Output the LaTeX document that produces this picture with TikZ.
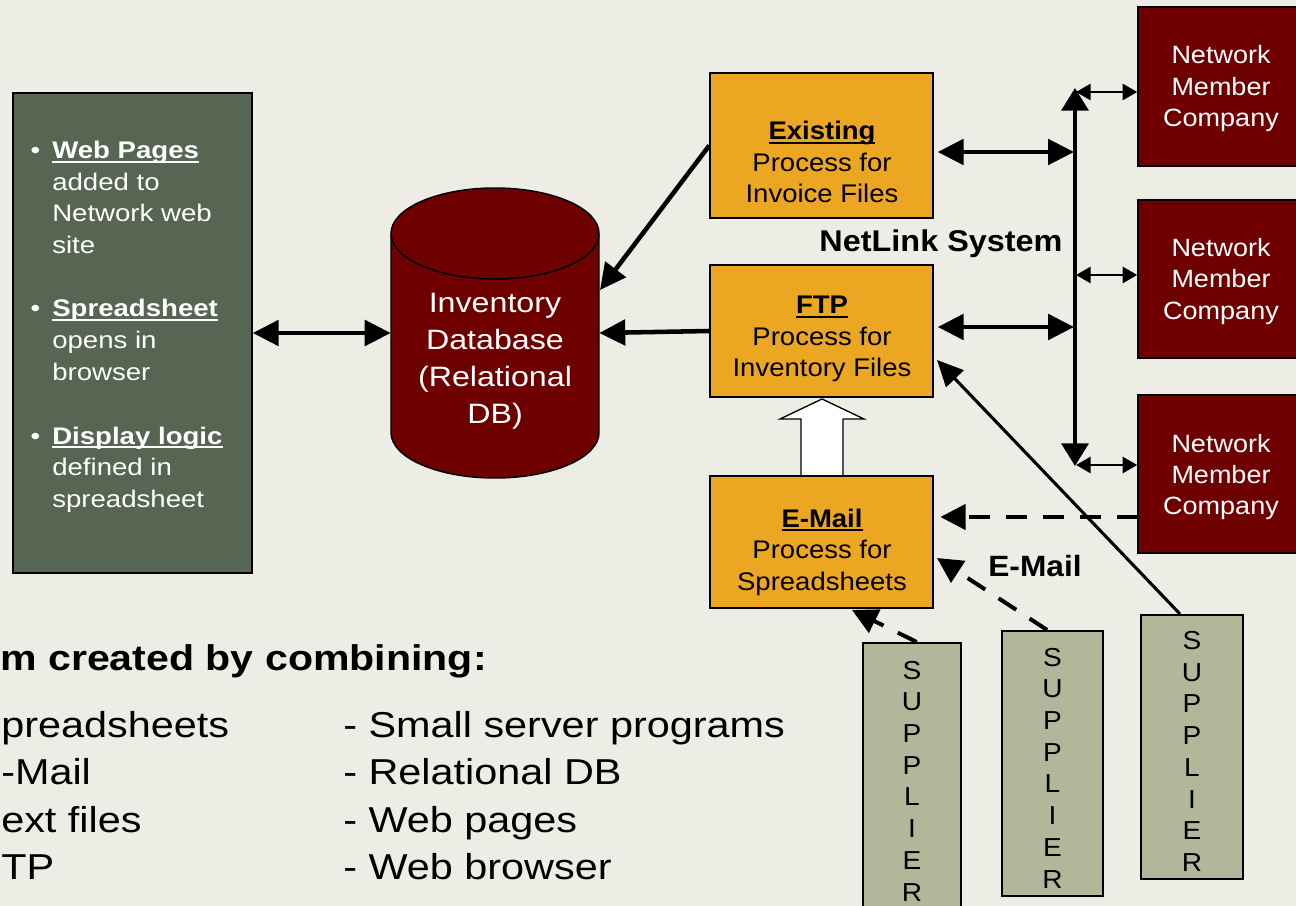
\documentclass[tikz,border=0pt]{standalone}
\usepackage{fontspec}
\setmainfont[FakeStretch=1.08]{Liberation Sans}
\newfontfamily\widefont[FakeStretch=1.15]{Liberation Sans}
\usetikzlibrary{arrows.meta,fit}
\definecolor{bg}{RGB}{237,237,230}
\definecolor{sage}{RGB}{86,102,83}
\definecolor{dbred}{RGB}{110,0,0}
\definecolor{gold}{RGB}{236,167,34}
\definecolor{khaki}{RGB}{179,183,154}
\newcommand\myul[1]{\setbox0\hbox{#1}\rlap{\rule[-0.17em]{\wd0}{0.085em}}\box0}
\begin{document}
\begin{tikzpicture}[x=0.75pt,y=-0.75pt,
  box/.style={draw=black, line width=1.1pt, inner sep=0pt},
  bigtwo/.style={line width=3.4pt, >={Triangle[length=19.5pt,width=19pt]}, <->},
  bigone/.style={line width=3.4pt, >={Triangle[length=19.5pt,width=19pt]}, ->},
  smalltwo/.style={line width=2.2pt, >={Triangle[length=11pt,width=12pt]}, <->},
  thinone/.style={line width=2.3pt, >={Triangle[length=19.5pt,width=18pt]}, ->},
  dashone/.style={line width=3pt, dash pattern=on 15.75pt off 12pt, >={Triangle[length=19pt,width=19pt]}, ->},
  gtxt/.style={text=white, font=\widefont\fontsize{18pt}{23.7pt}\selectfont, align=left, inner sep=0pt, anchor=west},
  ctxt/.style={text=white, font=\widefont\fontsize{21pt}{27.75pt}\selectfont, align=center, inner sep=0pt},
  otxt/.style={text=black, font=\fontsize{19.1pt}{23.6pt}\selectfont, align=center, inner sep=0pt},
  mtxt/.style={text=white, font=\fontsize{18.75pt}{23.6pt}\selectfont, align=center, inner sep=0pt},
  stxt/.style={text=black, font=\fontsize{19.5pt}{23.8pt}\selectfont, align=center, inner sep=0pt},
  btxt/.style={text=black, font=\widefont\fontsize{27pt}{35.6pt}\selectfont, inner sep=0pt},
  lbl/.style={text=black, font=\bfseries\fontsize{22.5pt}{26pt}\selectfont, inner sep=0pt}
]
\clip (0,0) rectangle (1296,906);
\fill[bg] (0,0) rectangle (1296,906);

% left green panel
\node[box, fill=sage, fit={(13,93) (252,573)}] (green) {};
\node[gtxt] (g1) at (52,197.5) {\llap{\textbullet\hspace{9pt}}\myul{\textbf{Web Pages}}\\added to\\Network web\\site};
\node[gtxt] (g2) at (52,340) {\llap{\textbullet\hspace{9pt}}\myul{\textbf{Spreadsheet}}\\opens in\\browser};
\node[gtxt] (g3) at (52,469.5) {\llap{\textbullet\hspace{9pt}}\myul{\textbf{Display logic}}\\defined in\\spreadsheet};

% database cylinder
\fill[dbred] (391,233.5) rectangle (599,432.5);
\fill[dbred] (495,432.5) ellipse [x radius=104, y radius=45.5];
\draw[line width=1.1pt] (391,233.5) -- (391,432.5) arc[start angle=180, end angle=0, x radius=104, y radius=45.5] -- (599,233.5);
\filldraw[fill=dbred, draw=black, line width=1.1pt] (495,233.5) ellipse [x radius=104, y radius=45.5];
\node[fit={(391,188) (599,478)}, inner sep=0pt] (db) {};
\node[ctxt] (dbt) at (495,361.5) {Inventory\\Database\\(Relational\\DB)};
\coordinate (dbR1) at (600,290);

% process boxes
\node[box, fill=gold, fit={(710,73) (933,218)}] (exist) {};
\node[otxt] (existt) at (822,162) {\myul{\textbf{Existing}}\\Process for\\Invoice Files};
\node[box, fill=gold, fit={(710,265) (933,397)}] (ftp) {};
\node[otxt] (ftpt) at (822,339) {\myul{\textbf{FTP}}\\Process for\\Inventory Files};
\filldraw[fill=white, draw=black, line width=1pt] (801,476) -- (801,419) -- (780,419) -- (822,399) -- (864,419) -- (843,419) -- (843,476);
\node[box, fill=gold, fit={(710,476) (933,608)}] (email) {};
\node[otxt] (emailt) at (822,552) {\myul{\textbf{E-Mail}}\\Process for\\Spreadsheets};

\node[lbl] (netlink) at (941,243.5) {NetLink System};
\node[lbl, font=\bfseries\fontsize{22pt}{26pt}\selectfont] (emaill) at (1035,566) {E-Mail};

% member companies
\node[box, fill=dbred, fit={(1138,7) (1304,166)}] (comp1) {};
\node[mtxt] (comp1t) at (1221,89) {Network\\Member\\Company};
\node[box, fill=dbred, fit={(1138,200) (1304,358)}] (comp2) {};
\node[mtxt] (comp2t) at (1221,281.5) {Network\\Member\\Company};
\node[box, fill=dbred, fit={(1138,395) (1304,553)}] (comp3) {};
\node[mtxt] (comp3t) at (1221,477) {Network\\Member\\Company};

% suppliers
\node[box, fill=khaki, line width=1.5pt, fit={(863,643) (961,908)}] (sup1) {};
\node[stxt] (sup1t) at (912,781) {S\\U\\P\\P\\L\\I\\E\\R};
\node[box, fill=khaki, line width=1.5pt, fit={(1002,631) (1103,896)}] (sup2) {};
\node[stxt] (sup2t) at (1052.5,768) {S\\U\\P\\P\\L\\I\\E\\R};
\node[box, fill=khaki, line width=1.5pt, fit={(1141,615) (1243,879)}] (sup3) {};
\node[stxt] (sup3t) at (1192,751.5) {S\\U\\P\\P\\L\\I\\E\\R};

% bus coordinates
\coordinate (bustop) at (1075,88);
\coordinate (busbot) at (1075,466);
\coordinate (bus1) at (1074,152);
\coordinate (bus2) at (1074,327);
\coordinate (bc1) at (1076,92);
\coordinate (bc2) at (1076,275);
\coordinate (bc3) at (1076,465);
\coordinate (d1) at (1138,517);
\coordinate (f1) at (937,360);
\coordinate (e1) at (937,558);
\coordinate (e2) at (852,610);

% connectors
\draw[bigtwo] (green.east) -- (db.west);
\draw[bigone] (exist.west) -- (dbR1);
\draw[bigone] (ftp.west) -- (db.east);
\draw[bigtwo, shorten <=3pt] (exist.east |- bus1) -- (bus1);
\draw[bigtwo, shorten <=3pt] (ftp.east |- bus2) -- (bus2);
\draw[bigtwo, >={Triangle[length=17pt,width=20pt]}] (busbot) -- (bustop);
\draw[smalltwo] (bc1) -- (comp1.west |- bc1);
\draw[smalltwo] (bc2) -- (comp2.west |- bc2);
\draw[smalltwo] (bc3) -- (comp3.west |- bc3);
\draw[dashone] (d1) -- (email.east |- d1) [shorten >=5pt];
\draw[thinone] ([xshift=-9pt]sup3.north) -- (f1);
\draw[dashone] ([xshift=-4pt]sup2.north) -- (e1);
\draw[dashone] ([xshift=3.5pt]sup1.north) -- (e2);

% bottom text
\node[btxt, font=\widefont\bfseries\fontsize{26.8pt}{35.6pt}\selectfont, anchor=base east] (title) at (487,670) {m created by combining:};
\node[btxt, anchor=base west] (l1) at (1,737) {preadsheets};
\node[btxt, anchor=base west] (l2) at (1,784.5) {-Mail};
\node[btxt, anchor=base west] (l3) at (1,832) {ext files};
\node[btxt, anchor=base west] (l4) at (1,879) {TP};
\node[btxt, anchor=base west] (r1) at (343,737) {- Small server programs};
\node[btxt, anchor=base west] (r2) at (343,784.5) {- Relational DB};
\node[btxt, anchor=base west] (r3) at (343,832) {- Web pages};
\node[btxt, anchor=base west] (r4) at (343,879) {- Web browser};
\end{tikzpicture}
\end{document}
